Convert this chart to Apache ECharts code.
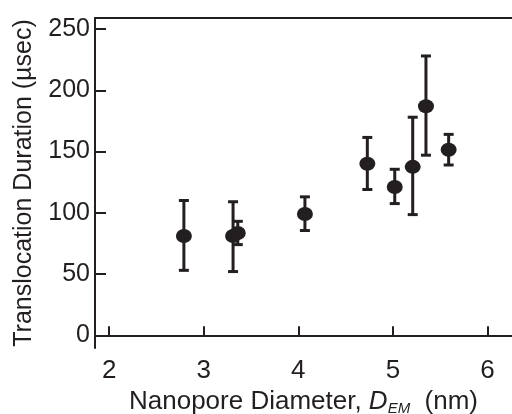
<!DOCTYPE html>
<html>
<head>
<meta charset="utf-8">
<title>Translocation duration</title>
<script src="https://cdn.jsdelivr.net/npm/echarts@6/dist/echarts.min.js"></script>
<style>
  html, body { margin: 0; padding: 0; background: #fff; }
  #main { width: 512px; height: 414px; }
</style>
</head>
<body>
<div id="main"></div>
<script>
// values
var diameter = [2.79, 3.31, 3.36, 4.07, 4.73, 5.02, 5.21, 5.35, 5.59];
var duration = [81, 81, 83.5, 99, 140, 121, 137.5, 187, 151.5];
var errLow   = [53, 52, 74, 85.5, 119, 107.5, 98.5, 147, 139];
var errHigh  = [110, 109, 93, 113, 161.5, 135.5, 178, 228, 164];
var xTicks = [2, 3, 4, 5, 6];
var yTicks = [0, 50, 100, 150, 200, 250];

var ink = '#231f20';
var font = '"Liberation Sans", Arial, Helvetica, sans-serif';

var points = [], bars = [];
for (var i = 0; i < diameter.length; i++) {
    points.push([diameter[i], duration[i]]);
    bars.push([diameter[i], errLow[i], errHigh[i]]);
}

var chart = echarts.init(document.getElementById('main'));

function drawErr(params, api) {
    var lo = api.coord([api.value(0), api.value(1)]);
    var hi = api.coord([api.value(0), api.value(2)]);
    var w = 5;
    var st = { stroke: ink, lineWidth: 3 };
    return {
        type: 'group',
        children: [
            { type: 'line', shape: { x1: lo[0], y1: lo[1], x2: hi[0], y2: hi[1] }, style: st },
            { type: 'line', shape: { x1: lo[0] - w, y1: lo[1], x2: lo[0] + w, y2: lo[1] }, style: st },
            { type: 'line', shape: { x1: hi[0] - w, y1: hi[1], x2: hi[0] + w, y2: hi[1] }, style: st }
        ]
    };
}

var option = {
    animation: false,
    grid: { left: 95, top: 18, right: 0, bottom: 66, containLabel: false, outerBoundsMode: 'none' },
    xAxis: [{
        type: 'value',
        min: 1.85,
        max: 6.26,
        position: 'bottom',
        splitLine: { show: false },
        axisLine: { lineStyle: { color: ink, width: 2 } },
        axisTick: { inside: true, length: 9, customValues: xTicks, lineStyle: { color: ink, width: 2 } },
        axisLabel: { customValues: xTicks, color: ink, fontSize: 26, fontFamily: font, margin: 10 },
        name: 'Nanopore Diameter, {i|D}{s|EM}  (nm)',
        nameLocation: 'middle',
        nameGap: 36,
        nameTextStyle: {
            color: ink, fontSize: 26, fontFamily: font,
            rich: {
                i: { fontStyle: 'italic', fontSize: 26, fontFamily: font, color: ink },
                s: { fontStyle: 'italic', fontSize: 15, fontFamily: font, color: ink, verticalAlign: 'bottom', padding: [13, 0, 0, 0] }
            }
        }
    }, {
        type: 'value',
        min: 1.85,
        max: 6.26,
        position: 'top',
        splitLine: { show: false },
        axisLine: { lineStyle: { color: ink, width: 2 } },
        axisTick: { show: false },
        axisLabel: { show: false }
    }],
    yAxis: {
        type: 'value',
        min: -10.4,
        max: 259,
        splitLine: { show: false },
        axisLine: { show: true, lineStyle: { color: ink, width: 2 } },
        axisTick: { show: true, inside: true, length: 11, customValues: yTicks, lineStyle: { color: ink, width: 2 } },
        axisLabel: { customValues: yTicks, color: ink, fontSize: 25, fontFamily: font, margin: 5 },
        name: 'Translocation Duration (µsec)',
        nameLocation: 'middle',
        nameGap: 58,
        nameTextStyle: { color: ink, fontSize: 25, fontFamily: font }
    },
    series: [{
        type: 'custom',
        renderItem: drawErr,
        data: bars,
        z: 2
    }, {
        type: 'scatter',
        data: points,
        symbol: 'circle',
        symbolSize: [16, 14],
        itemStyle: { color: ink, opacity: 1 },
        z: 3
    }]
};

chart.setOption(option);
</script>
</body>
</html>
